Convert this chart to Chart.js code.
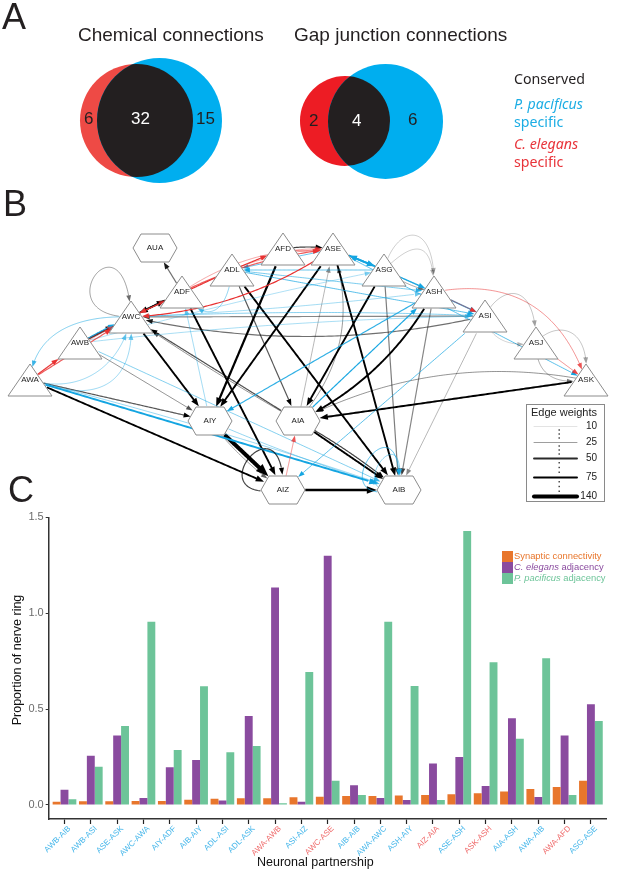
<!DOCTYPE html>
<html>
<head>
<meta charset="utf-8">
<script src="https://cdn.jsdelivr.net/npm/chart.js@4"></script>
<style>
  html, body { margin: 0; background: #fff; }
  #page { position: relative; width: 617px; height: 872px; overflow: hidden; font-family: "Liberation Sans", sans-serif; }
  #page canvas { position: absolute; left: 0; }
  .txt { position: absolute; white-space: nowrap; transform: translateY(-50%); line-height: 1; }
</style>
</head>
<body>
<div id="page">
  <canvas id="netCan" width="617" height="505" style="top:0"></canvas>
  <canvas id="barCan" width="617" height="367" style="top:505px"></canvas>
</div>
<script>
// panel C
const barLabels = ['AWB-AIB','AWB-ASI','ASE-ASK','AWC-AWA','AIY-ADF','AIB-AIY','ADL-ASI','ADL-ASK','AWA-AWB','ASI-AIZ','AWC-ASE','AIB-AIB','AWA-AWC','ASH-AIY','AIZ-AIA','ASE-ASH','ASK-ASH','AIA-ASH','AWA-AIB','AWA-AFD','ASG-ASE']
const redLabels = ['AWA-AWB','AWC-ASE','AIZ-AIA','ASK-ASH','AWA-AFD']
const synaptic = [.017,.019,.019,.021,.021,.028,.033,.035,.035,.04,.043,.047,.047,.049,.052,.056,.061,.07,.083,.094,.127]
const elegansAdj = [.08,.257,.363,.036,.197,.235,.023,.464,1.134,.017,1.3,.103,.036,.026,.217,.25,.099,.452,.042,.362,.525]
const pacificusAdj = [.03,.2,.412,.955,.287,.619,.275,.308,.009,.694,.127,.052,.955,.62,.026,1.428,.744,.346,.765,.052,.438]
const yTicks = [0, .5, 1, 1.5]

// panel A: centre x, centre y, radius
const chemRed = [136.5, 120.5, 56.5]
const chemBlue = [159.5, 120.5, 62.5]
const gapRed = [345, 121, 45]
const gapBlue = [385.5, 121.5, 57.5]

// panel B
const nodeNames = ['AUA','AFD','ADL','ADF','AWC','AWB','AWA','AIY','AIA','AIZ','AIB','ASE','ASG','ASH','ASI','ASJ','ASK']
const nodeX = [155,283,232,182,131,80,30,210,298,283,399,333,384,434,485,536,586]
const nodeY = [248,249,270,292,317,343,380,421,421,490,490,249,270,292,316,343,380]
const nodeKinds = ['h','t','t','t','t','t','t','h','h','h','h','t','t','t','t','t','t']
// from, to, weight, k(conserved) / b(pacificus) / r(elegans), bend
const edgeList = [
  ['ADF','AUA',35,'k'],['ADF','AWC',50,'k'],['AWC','ADF',50,'k'],['AWC','AIY',75,'k'],['ADF','AIZ',75,'k'],
  ['ADL','AIA',40,'k'],['ADL','AIB',75,'k'],['AFD','AIY',85,'k'],['ASE','AIY',65,'k'],['ASE','AIB',65,'k'],
  ['ASG','AIA',70,'k'],['ASG','AIB',32,'k'],['ASH','AIB',30,'k'],['ASH','AIA',60,'k',30],['ASI','AIB',20,'k'],
  ['ASK','AIA',75,'k'],['ASK','AIA',27,'k',-50],['AWA','AIY',40,'k'],['AWA','AIZ',60,'k'],['AWB','AIY',28,'k'],
  ['AWB','AWC',50,'k'],['AIY','AIZ',140,'k'],['AIY','AIZ',25,'k',-8],['AIZ','AIB',100,'k'],['AIA','AIB',75,'k'],
  ['AIA','AIB',45,'k',6],['AIA','AWC',42,'k'],['AIA','AWC',28,'k',4],['AIA','ASE',20,'k'],['AIA','ASE',26,'k',-50],
  ['ASI','AWC',30,'k'],['ASI','AWC',35,'k',40],['AFD','ASE',45,'k',4],['ASG','ASH',24,'k',-6],
  ['ASE','ASG',60,'b'],['ASG','ASE',60,'b'],['ASG','ASH',38,'b'],['ASH','ASI',35,'b'],['ASG','ASI',24,'b'],
  ['ADL','ASI',26,'b'],['ASE','ADL',26,'b'],['ASG','ADL',24,'b'],['ADL','ASH',20,'b'],['ASE','ASK',26,'b'],
  ['ASH','AIY',34,'b'],['AIA','ASH',38,'b'],['ASI','AIZ',26,'b'],['AWA','AIB',58,'b'],
  ['AWA','AIB',14,'b',8],['AWB','AIB',18,'b'],['AIY','AIB',15,'b',-6],['AWB','AWC',38,'b',2],['AIY','ADF',13,'b'],
  ['AWC','ASI',17,'b',8],['AWC','ASH',12,'b',-6],['AWB','ASI',11,'b',10],['AWB','ASG',10,'b',6],
  ['ADL','AFD',46,'r'],['ADF','ASE',30,'r',14],['ADF','ASE',14,'r',26],['ADL','ASE',13,'r',10],['ASE','AWC',42,'r',30],
  ['ADL','AWC',40,'r'],['AWA','AWB',36,'r'],['AWA','AWC',30,'r'],['AWA','AWC',13,'r',5],['AWB','ADF',13,'r'],
  ['AIZ','AIA',18,'r'],['ASH','ASK',18,'r',75],['ASH','ASI',24,'r'],['ASJ','ASK',20,'r'],['AFD','ASE',28,'r',-4]
]
// from, to, control offsets from each end, weight, kind
const arcList = [
  ['AWC','AWC',-90,0,-5,-112,24,'k'],
  ['AIZ','AIZ',-93,15,2,-100,45,'k'],
  ['AIB','AIB',-85,20,5,-105,26,'b'],
  ['AIB','AIB',-60,10,10,-85,16,'b'],
  ['ASG','ASH',11,-45,3,-77,15,'k'],
  ['ASG','ASH',25,-25,0,-60,15,'k'],
  ['ASI','ASJ',15,-30,0,-65,17,'k'],
  ['ASI','ASJ',5,30,-15,3,14,'k'],
  ['ASJ','ASK',15,-20,5,-60,17,'k'],
  ['ASJ','ASK',0,32,-31,5,22,'k'],
  ['AWC','AWA',-50,-2,5,-50,18,'b'],
  ['AWA','AWC',50,15,-10,50,13,'b'],
  ['AWA','AWC',65,25,5,70,13,'b'],
  ['ADL','ADF',-5,50,20,30,16,'b']
]
const legendWeights = [10,25,50,75,140]
const legendRowY = [426,442,458,477,496]

const orange = '#e8762c', purple = '#8a4b9f', green = '#6dc499'
const kindRGB = { k: [0,0,0], b: [20,165,225], r: [232,50,50] }

Chart.defaults.font.family = '"Liberation Sans", sans-serif'
Chart.defaults.animation = false

function put(html, x, y, size, color, extra) {
  const d = document.createElement('div')
  d.className = 'txt'
  d.innerHTML = html
  d.style.cssText = `left:${x}px;top:${y}px;font-size:${size}px;color:${color};` + (extra || '')
  document.getElementById('page').appendChild(d)
  return d
}

function edgeAlpha(w, kind) {
  return kind === 'k' ? Math.min(1, (w - 4) / 55) : Math.min(1, .12 + w / 45)
}
function edgeColor(w, kind, boost) {
  const c = kindRGB[kind]
  return `rgba(${c[0]},${c[1]},${c[2]},${Math.min(1, edgeAlpha(w, kind) * (boost || 1))})`
}
function edgeWidth(w) {
  return w < 30 ? 1 : w < 50 ? 1.2 : w <= 75 ? 1.9 : 1.9 + (w - 75) * .033
}

function insideNode(i, px, py) {
  const dx = Math.abs(px - nodeX[i]), dy = py - nodeY[i]
  if (nodeKinds[i] === 'h') {
    return Math.abs(dy) <= 14 && dx <= 22 - Math.abs(dy) * 8 / 14
  }
  return dy >= -16 && dy <= 16 && dx <= 22 * (dy + 16) / 32
}

// cubic between two nodes, cut at the node outlines, with an arrow head
function drawEdge(ctx, xs, ys, a, b, c1, c2, w, kind) {
  const px = v => xs.getPixelForValue(v), py = v => ys.getPixelForValue(v)
  const p0 = [px(nodeX[a]), py(nodeY[a])], p3 = [px(nodeX[b]), py(nodeY[b])]
  const pts = []
  for (let i = 0; i <= 120; i++) {
    const t = i / 120, u = 1 - t
    pts.push([0, 1].map(k => u*u*u*p0[k] + 3*u*u*t*c1[k] + 3*u*t*t*c2[k] + t*t*t*p3[k]))
  }
  let s = 0, e = 120
  while (s < 120 && insideNode(a, pts[s][0], pts[s][1])) s++
  while (e > s && insideNode(b, pts[e][0], pts[e][1])) e--
  const color = edgeColor(w, kind), lw = edgeWidth(w)
  const tip = pts[e], back = pts[Math.max(s, e - 3)]
  const ang = Math.atan2(tip[1] - back[1], tip[0] - back[0])
  const len = 4.5 + lw * 2, half = 1.6 + lw * .8
  ctx.strokeStyle = color
  ctx.lineWidth = lw
  ctx.beginPath()
  ctx.moveTo(pts[s][0], pts[s][1])
  for (let i = s + 1; i <= e; i++) {
    const d = Math.hypot(pts[i][0] - tip[0], pts[i][1] - tip[1])
    if (d < len * .8) break
    ctx.lineTo(pts[i][0], pts[i][1])
  }
  ctx.stroke()
  ctx.fillStyle = edgeColor(w, kind, 1.6)
  ctx.beginPath()
  ctx.moveTo(tip[0], tip[1])
  ctx.lineTo(tip[0] - len*Math.cos(ang) - half*Math.sin(ang), tip[1] - len*Math.sin(ang) + half*Math.cos(ang))
  ctx.lineTo(tip[0] - len*Math.cos(ang) + half*Math.sin(ang), tip[1] - len*Math.sin(ang) - half*Math.cos(ang))
  ctx.closePath()
  ctx.fill()
}

const edgesPlugin = {
  id: 'edges',
  beforeDatasetsDraw(chart) {
    const ctx = chart.ctx, xs = chart.scales.x, ys = chart.scales.y
    ctx.save()
    edgeList.forEach(([from, to, w, kind, bend]) => {
      const a = nodeNames.indexOf(from), b = nodeNames.indexOf(to)
      const x0 = nodeX[a], y0 = nodeY[a], x1 = nodeX[b], y1 = nodeY[b]
      const len = Math.hypot(x1 - x0, y1 - y0)
      const mx = (x0 + x1) / 2 + (y1 - y0) / len * (bend || 0)
      const my = (y0 + y1) / 2 - (x1 - x0) / len * (bend || 0)
      // quadratic written as cubic
      const c1 = [x0 + (mx - x0) * 2 / 3, y0 + (my - y0) * 2 / 3].map((v, k) => (k ? ys : xs).getPixelForValue(v))
      const c2 = [x1 + (mx - x1) * 2 / 3, y1 + (my - y1) * 2 / 3].map((v, k) => (k ? ys : xs).getPixelForValue(v))
      drawEdge(ctx, xs, ys, a, b, c1, c2, w, kind)
    })
    arcList.forEach(([from, to, dx1, dy1, dx2, dy2, w, kind]) => {
      const a = nodeNames.indexOf(from), b = nodeNames.indexOf(to)
      const c1 = [xs.getPixelForValue(nodeX[a] + dx1), ys.getPixelForValue(nodeY[a] + dy1)]
      const c2 = [xs.getPixelForValue(nodeX[b] + dx2), ys.getPixelForValue(nodeY[b] + dy2)]
      drawEdge(ctx, xs, ys, a, b, c1, c2, w, kind)
    })
    ctx.restore()
  },
  afterDatasetsDraw(chart) {
    const ctx = chart.ctx, xs = chart.scales.x, ys = chart.scales.y
    ctx.save()
    // venn overlap
    ;[[chemRed, chemBlue], [gapRed, gapBlue]].forEach(([r, b]) => {
      ctx.save()
      ctx.beginPath()
      ctx.arc(xs.getPixelForValue(b[0]), ys.getPixelForValue(b[1]), b[2], 0, Math.PI * 2)
      ctx.clip()
      ctx.fillStyle = '#231f20'
      ctx.beginPath()
      ctx.arc(xs.getPixelForValue(r[0]), ys.getPixelForValue(r[1]), r[2], 0, Math.PI * 2)
      ctx.fill()
      ctx.restore()
    })
    // node names
    ctx.font = '8px "Liberation Sans"'
    ctx.fillStyle = '#222'
    ctx.textAlign = 'center'
    ctx.textBaseline = 'middle'
    nodeNames.forEach((n, i) => {
      ctx.fillText(n, xs.getPixelForValue(nodeX[i]), ys.getPixelForValue(nodeY[i]))
    })
    // edge weight key
    ctx.strokeStyle = '#8a8a8a'
    ctx.lineWidth = 1
    ctx.strokeRect(526.5, 404.5, 78, 97)
    ctx.fillStyle = '#222'
    ctx.textAlign = 'left'
    ctx.font = '11px "Liberation Sans"'
    ctx.fillText('Edge weights', 531, 413)
    ctx.textAlign = 'right'
    ctx.font = '10px "Liberation Sans"'
    legendWeights.forEach((w, i) => {
      const y = legendRowY[i]
      ctx.strokeStyle = edgeColor(w, 'k')
      ctx.lineWidth = edgeWidth(w)
      ctx.lineCap = 'round'
      ctx.beginPath(); ctx.moveTo(534, y + .5); ctx.lineTo(577, y + .5); ctx.stroke()
      ctx.fillStyle = '#222'
      ctx.fillText(String(w), 597, y + .5)
      if (i < 4) {
        ctx.fillStyle = '#333'
        for (let k = 1; k <= 3; k++) ctx.fillRect(558.5, y + (legendRowY[i + 1] - y) * k / 4 - .7, 1.4, 1.4)
      }
    })
    ctx.restore()
  }
}

function shapeCanvas(kind) {
  const c = document.createElement('canvas')
  c.width = 50; c.height = 36
  const g = c.getContext('2d')
  g.fillStyle = '#fff'
  g.strokeStyle = '#8c8c8c'
  g.lineWidth = 1
  g.beginPath()
  if (kind === 't') {
    g.moveTo(25, 2); g.lineTo(47, 34); g.lineTo(3, 34)
  } else {
    g.moveTo(3, 18); g.lineTo(11, 4); g.lineTo(39, 4); g.lineTo(47, 18); g.lineTo(39, 32); g.lineTo(11, 32)
  }
  g.closePath()
  g.fill()
  g.stroke()
  return c
}
const triShape = shapeCanvas('t'), hexShape = shapeCanvas('h')

new Chart(document.getElementById('netCan'), {
  type: 'scatter',
  data: {
    datasets: [
      {
        data: nodeNames.map((n, i) => ({ x: nodeX[i], y: nodeY[i] })),
        pointStyle: c => nodeKinds[c.dataIndex] === 't' ? triShape : hexShape,
        pointRadius: 10
      },
      { type: 'bubble', data: [chemBlue, gapBlue].map(s => ({ x: s[0], y: s[1], r: s[2] })), backgroundColor: '#00aeef', borderWidth: 0 },
      { type: 'bubble', data: [chemRed, gapRed].map(s => ({ x: s[0], y: s[1], r: s[2] })), backgroundColor: c => c.dataIndex ? '#ed1c24' : '#ee4a45', borderWidth: 0 }
    ]
  },
  options: {
    responsive: false,
    layout: { padding: 0, autoPadding: false },
    plugins: { legend: { display: false }, tooltip: { enabled: false } },
    scales: {
      x: { type: 'linear', display: false, min: 0, max: 617 },
      y: { type: 'linear', display: false, min: 0, max: 505, reverse: true }
    }
  },
  plugins: [edgesPlugin]
})

new Chart(document.getElementById('barCan'), {
  type: 'bar',
  data: {
    datasets: [
      { label: 'Synaptic connectivity', data: synaptic.map((v, i) => ({ x: i + 1, y: v })), backgroundColor: orange },
      { label: 'C. elegans adjacency', data: elegansAdj.map((v, i) => ({ x: i + 1, y: v })), backgroundColor: purple },
      { label: 'P. pacificus adjacency', data: pacificusAdj.map((v, i) => ({ x: i + 1, y: v })), backgroundColor: green }
    ]
  },
  options: {
    responsive: false,
    layout: { padding: { top: 12.3, right: 10.3, left: 0, bottom: 0 } },
    datasets: { bar: { categoryPercentage: .9, barPercentage: 1 } },
    plugins: { legend: { display: false }, tooltip: { enabled: false } },
    scales: {
      x: {
        type: 'linear', offset: false, min: .4, max: 21.6,
        afterBuildTicks: s => { s.ticks = barLabels.map((l, i) => ({ value: i + 1 })) },
        afterFit: s => { s.height = 53 },
        border: { color: '#333', width: 1.5 },
        grid: { offset: false, display: true, drawTicks: true, drawOnChartArea: false, color: '#333', tickColor: '#222', tickWidth: 1.2, tickLength: 5 },
        ticks: {
          autoSkip: false, minRotation: 45, maxRotation: 45, padding: 0, labelOffset: 5,
          font: { size: 8 },
          color: c => redLabels.includes(barLabels[c.index]) ? '#ef6a6a' : '#45b6ea',
          callback: v => barLabels[v - 1]
        }
      },
      y: {
        min: -.073, max: 1.5,
        afterBuildTicks: s => { s.ticks = yTicks.map(v => ({ value: v })) },
        afterFit: s => { s.width = 48.7 },
        border: { color: '#333', width: 1.5 },
        grid: { drawOnChartArea: false, color: '#333', tickLength: 3 },
        ticks: { font: { size: 11 }, color: '#6b6b6b', padding: 2, callback: v => v.toFixed(1) }
      }
    }
  }
})

// panel letters, headings, venn counts
put('A', 2, 17, 36, '#231f20')
put('B', 3, 204, 36, '#231f20')
put('C', 8, 490, 36, '#231f20')
put('Chemical connections', 78, 34, 19, '#231f20')
put('Gap junction connections', 294, 34, 19, '#231f20')
put('6', 84, 118, 17, '#231f20')
put('32', 131, 118, 17, '#fff')
put('15', 196, 118, 17, '#231f20')
put('2', 309, 120, 17, '#231f20')
put('4', 352, 120, 17, '#fff')
put('6', 408, 119, 17, '#231f20')
const sideFont = 'font-family:"Noto Sans";'
put('Conserved', 514, 79, 14.2, '#231f20', sideFont)
put('<i>P. pacificus</i>', 514, 104, 14.2, '#1cade4', sideFont)
put('specific', 514, 122, 14.2, '#1cade4', sideFont)
put('<i>C. elegans</i>', 514, 144, 14.2, '#e8343a', sideFont)
put('specific', 514, 162, 14.2, '#e8343a', sideFont)

// panel C axis titles and key
put('Neuronal partnership', 257, 862, 12.5, '#111')
put('Proportion of nerve ring', 17, 660, 12.5, '#111', 'transform:translate(-50%,-50%) rotate(-90deg);')
const keyItems = [['Synaptic connectivity', orange], ['<i>C. elegans</i> adjacency', purple], ['<i>P. pacificus</i> adjacency', green]]
keyItems.forEach(([label, col], i) => {
  const box = document.createElement('div')
  box.style.cssText = `position:absolute;left:502px;top:${550.5 + i * 11.2}px;width:11px;height:11.2px;background:${col}`
  document.getElementById('page').appendChild(box)
  put(label, 514, 555.5 + i * 11.4, 9.4, col)
})
</script>
</body>
</html>
